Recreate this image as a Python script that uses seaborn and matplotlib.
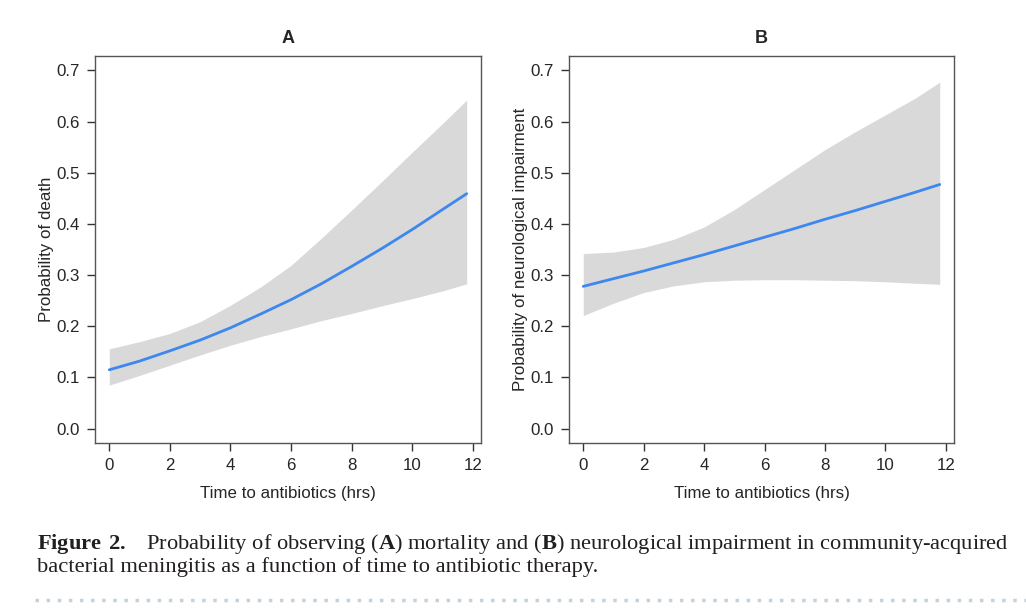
import numpy as np
import pandas as pd
import matplotlib
matplotlib.use("Agg")
import matplotlib.pyplot as plt
import seaborn as sns

# time points (hrs)
hrs = [0, 1, 2, 3, 4, 5, 6, 7, 8, 9, 10, 11, 11.8]

# panel A - mortality
death_fit = [0.115, 0.132, 0.152, 0.173, 0.197, 0.224, 0.252, 0.283, 0.317, 0.352, 0.389, 0.428, 0.459]
death_hi = [0.156, 0.170, 0.186, 0.209, 0.241, 0.277, 0.319, 0.372, 0.427, 0.483, 0.540, 0.596, 0.642]
death_lo = [0.085, 0.104, 0.124, 0.144, 0.163, 0.180, 0.195, 0.211, 0.225, 0.240, 0.254, 0.269, 0.283]

# panel B - neurological impairment
neuro_fit = [0.278, 0.293, 0.308, 0.324, 0.340, 0.357, 0.374, 0.391, 0.409, 0.426, 0.444, 0.462, 0.477]
neuro_hi = [0.342, 0.345, 0.354, 0.370, 0.394, 0.428, 0.467, 0.506, 0.545, 0.580, 0.613, 0.646, 0.677]
neuro_lo = [0.221, 0.245, 0.266, 0.279, 0.287, 0.290, 0.291, 0.291, 0.290, 0.289, 0.287, 0.284, 0.282]

sns.set_style("ticks")
plt.rcParams['font.family'] = ['Liberation Sans', 'DejaVu Sans']
plt.rcParams['mathtext.fontset'] = 'custom'
plt.rcParams['mathtext.rm'] = 'Liberation Serif'
plt.rcParams['mathtext.bf'] = 'Liberation Serif:bold'

fig = plt.figure(figsize=(10.26, 6.08), dpi=100)
ax1 = fig.add_axes([95/1026, 165/608, 386/1026, 387/608])
ax2 = fig.add_axes([569/1026, 165/608, 385/1026, 387/608])

panels = [
    (ax1, death_fit, death_lo, death_hi, "A", "Probability of death"),
    (ax2, neuro_fit, neuro_lo, neuro_hi, "B", "Probability of neurological impairment"),
]

for ax, fit, lo, hi, ttl, ylab in panels:
    df = pd.DataFrame({'hrs': hrs, 'fit': fit, 'lo': lo, 'hi': hi})
    ax.fill_between(df.hrs, df.lo, df.hi, color='#d9d9d9', lw=0)
    sns.lineplot(data=df, x='hrs', y='fit', ax=ax, color='#3d87ee', lw=2)
    ax.set_xlim(-0.472, 12.272)
    ax.set_ylim(-0.028, 0.728)
    ax.set_xticks([0, 2, 4, 6, 8, 10, 12])
    ax.set_yticks([0.0, 0.1, 0.2, 0.3, 0.4, 0.5, 0.6, 0.7])
    ax.set_yticklabels(['0.0', '0.1', '0.2', '0.3', '0.4', '0.5', '0.6', '0.7'])
    ax.tick_params(axis='both', labelsize=12.2, length=6, width=1, color='#333333', pad=5)
    for sp in ax.spines.values():
        sp.set_visible(True)
        sp.set_color('#555555')
        sp.set_linewidth(1)
    ax.set_xlabel("Time to antibiotics (hrs)", fontsize=12.2, labelpad=9)
    ax.set_ylabel(ylab, fontsize=12.2, labelpad=1.5)
    ax.set_title(ttl, fontsize=13, fontweight='bold', pad=9.5)

fig.text(37/1026, 1 - 549/608,
         r"$\mathbf{Figure\ 2.}$   Probability of observing ($\mathbf{A}$) mortality and ($\mathbf{B}$) neurological impairment in community-acquired",
         fontsize=16.2, family='Liberation Serif', color='#231f20', va='baseline', ha='left')
fig.text(37/1026, 1 - 572/608,
         "bacterial meningitis as a function of time to antibiotic therapy.",
         fontsize=16.2, family='Liberation Serif', color='#231f20', va='baseline', ha='left')

# dotted separator
fig.lines.append(plt.Line2D([35/1026, 1.0], [1 - 600/608, 1 - 600/608], transform=fig.transFigure,
                            color='#c5d2dc', lw=2.5, ls=(0, (1, 2.2))))

fig.savefig("out.png", dpi=100)
